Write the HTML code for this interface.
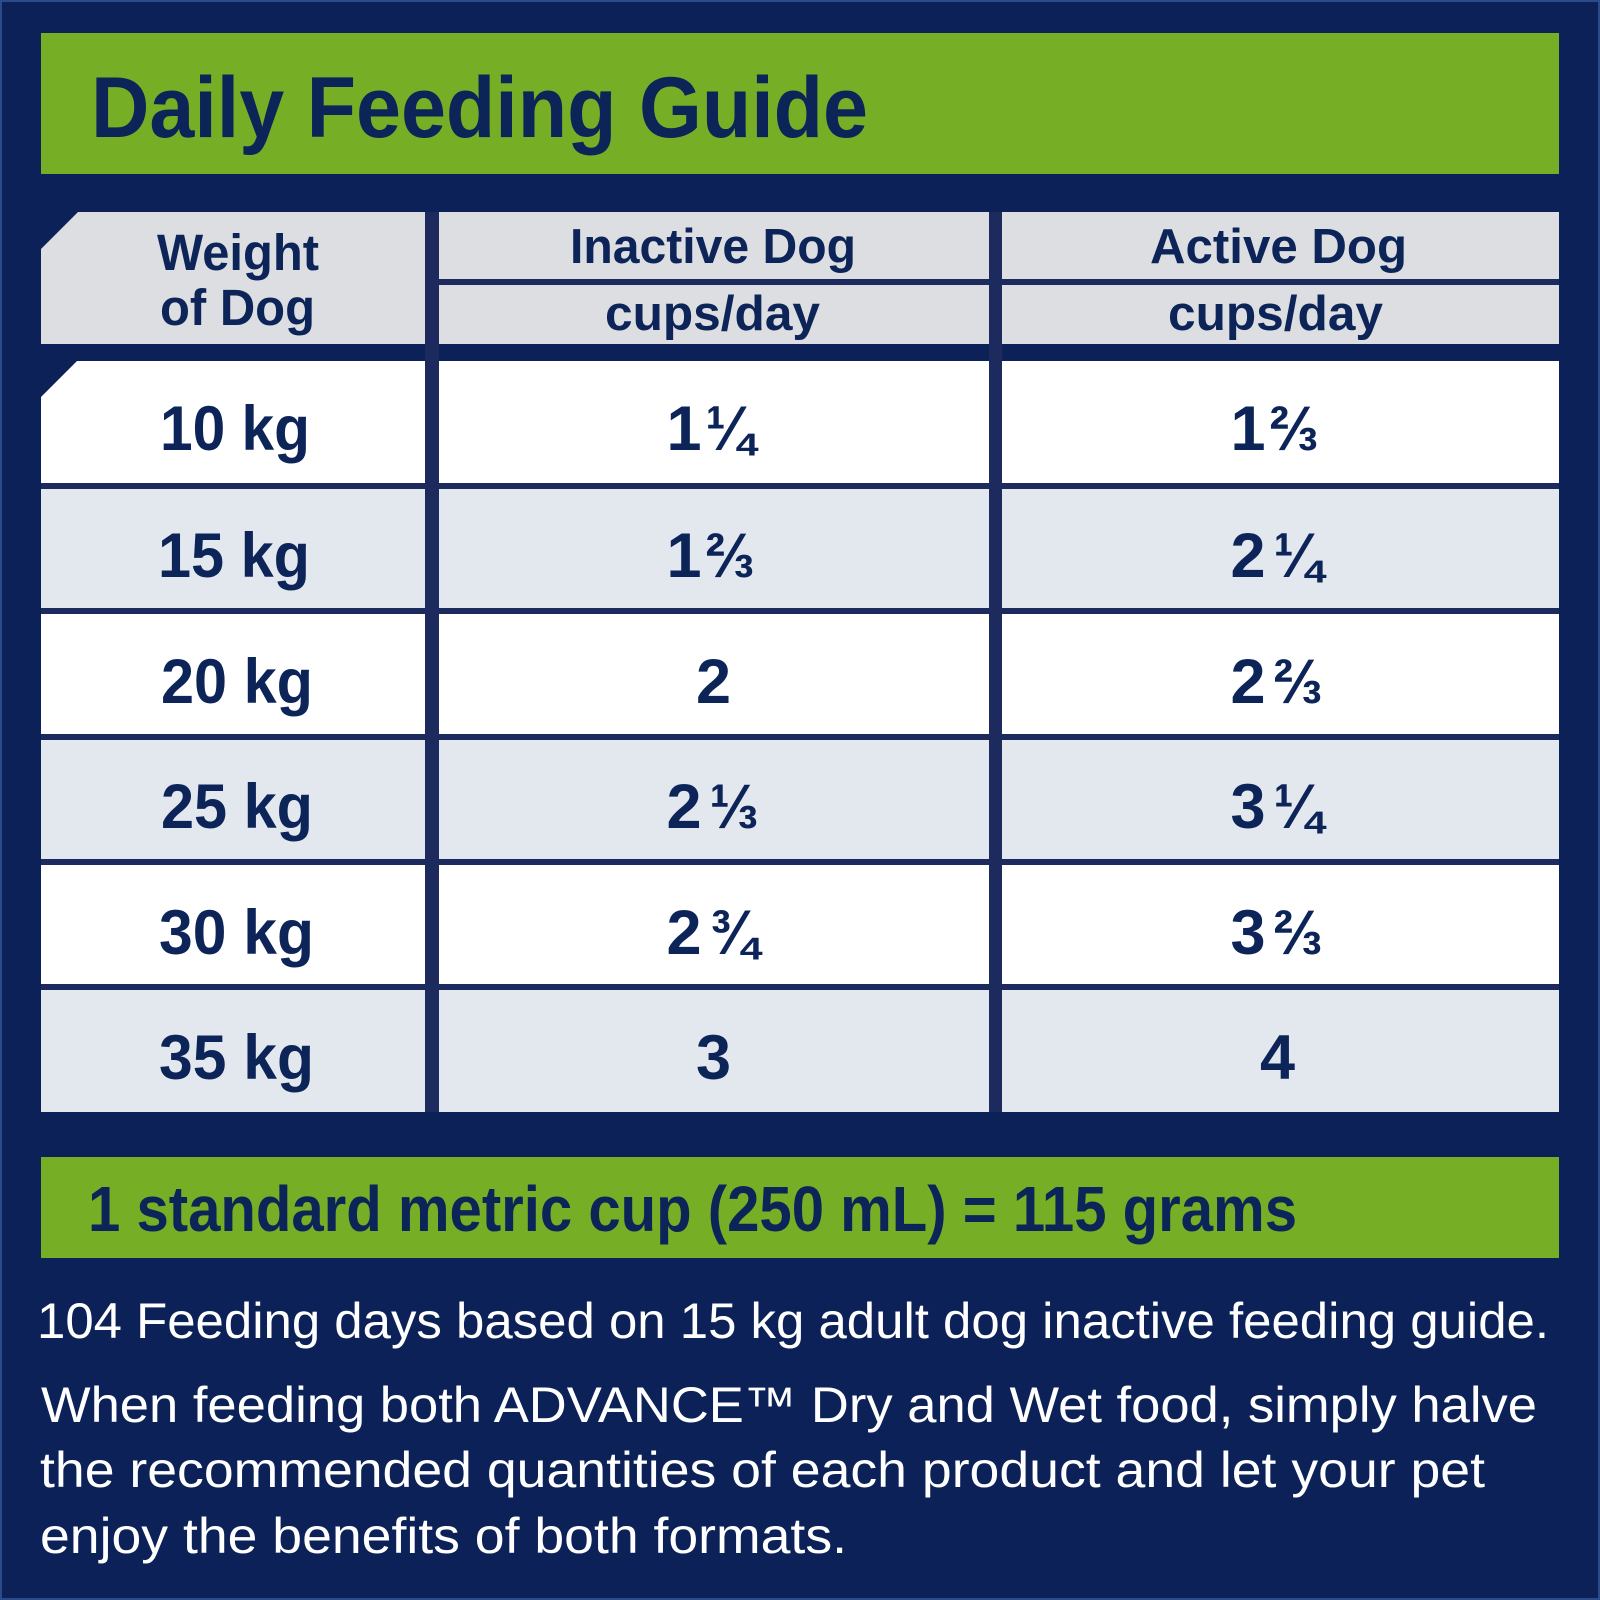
<!DOCTYPE html>
<html>
<head>
<meta charset="utf-8">
<style>
  html,body{margin:0;padding:0;background:#0b2157;}
  svg{display:block;}
  .b{font-family:"Liberation Sans","DejaVu Sans",sans-serif;font-weight:bold;fill:#0c2458;}
  .r{font-family:"Liberation Sans","DejaVu Sans",sans-serif;font-weight:normal;fill:#ffffff;}
</style>
</head>
<body>
<svg width="1600" height="1600" viewBox="0 0 1600 1600" xmlns="http://www.w3.org/2000/svg">
  <rect x="0" y="0" width="1600" height="1600" fill="#0b2157"/>
  <rect x="1" y="1" width="1598" height="1598" fill="none" stroke="#2a4a8a" stroke-width="2"/>

  <!-- Title bar -->
  <rect x="41" y="33" width="1518" height="141" fill="#76ae26"/>
  <text class="b" x="91" y="137" font-size="86" textLength="777" lengthAdjust="spacingAndGlyphs">Daily Feeding Guide</text>

  <!-- vertical separators -->
  <rect x="425" y="212" width="14" height="900" fill="#1d2a5e"/>
  <rect x="989" y="212" width="13" height="900" fill="#1d2a5e"/>

  <!-- Header -->
  <polygon points="41,249 78,212 425,212 425,344 41,344" fill="#dcdee1"/>
  <rect x="439" y="212" width="550" height="67" fill="#dcdee1"/>
  <rect x="439" y="279" width="550" height="6" fill="#1d2a5e"/>
  <rect x="439" y="285" width="550" height="59" fill="#dcdee1"/>
  <rect x="1002" y="212" width="557" height="67" fill="#dcdee1"/>
  <rect x="1002" y="279" width="557" height="6" fill="#1d2a5e"/>
  <rect x="1002" y="285" width="557" height="59" fill="#dcdee1"/>

  <text class="b" x="157" y="270" font-size="51" textLength="162" lengthAdjust="spacingAndGlyphs">Weight</text>
  <text class="b" x="160" y="325" font-size="51" textLength="155" lengthAdjust="spacingAndGlyphs">of Dog</text>
  <text class="b" x="570" y="263" font-size="49" textLength="286" lengthAdjust="spacingAndGlyphs">Inactive Dog</text>
  <text class="b" x="605" y="330" font-size="49" textLength="215" lengthAdjust="spacingAndGlyphs">cups/day</text>
  <text class="b" x="1150" y="263" font-size="49" textLength="257" lengthAdjust="spacingAndGlyphs">Active Dog</text>
  <text class="b" x="1168" y="330" font-size="49" textLength="215" lengthAdjust="spacingAndGlyphs">cups/day</text>

  <!-- row gaps -->
  <rect x="41" y="483" width="1518" height="6" fill="#1d2a5e"/>
  <rect x="41" y="608" width="1518" height="6" fill="#1d2a5e"/>
  <rect x="41" y="734" width="1518" height="6" fill="#1d2a5e"/>
  <rect x="41" y="859" width="1518" height="6" fill="#1d2a5e"/>
  <rect x="41" y="984" width="1518" height="6" fill="#1d2a5e"/>

  <!-- Row 1 (white) -->
  <polygon points="41,397 77,361 425,361 425,483 41,483" fill="#ffffff"/>
  <rect x="439" y="361" width="550" height="122" fill="#ffffff"/>
  <rect x="1002" y="361" width="557" height="122" fill="#ffffff"/>
  <!-- Row 2 (light) -->
  <rect x="41" y="489" width="384" height="119" fill="#e3e8ef"/>
  <rect x="439" y="489" width="550" height="119" fill="#e3e8ef"/>
  <rect x="1002" y="489" width="557" height="119" fill="#e3e8ef"/>
  <!-- Row 3 (white) -->
  <rect x="41" y="614" width="384" height="120" fill="#ffffff"/>
  <rect x="439" y="614" width="550" height="120" fill="#ffffff"/>
  <rect x="1002" y="614" width="557" height="120" fill="#ffffff"/>
  <!-- Row 4 (light) -->
  <rect x="41" y="740" width="384" height="119" fill="#e3e8ef"/>
  <rect x="439" y="740" width="550" height="119" fill="#e3e8ef"/>
  <rect x="1002" y="740" width="557" height="119" fill="#e3e8ef"/>
  <!-- Row 5 (white) -->
  <rect x="41" y="865" width="384" height="119" fill="#ffffff"/>
  <rect x="439" y="865" width="550" height="119" fill="#ffffff"/>
  <rect x="1002" y="865" width="557" height="119" fill="#ffffff"/>
  <!-- Row 6 (light) -->
  <rect x="41" y="990" width="384" height="122" fill="#e3e8ef"/>
  <rect x="439" y="990" width="550" height="122" fill="#e3e8ef"/>
  <rect x="1002" y="990" width="557" height="122" fill="#e3e8ef"/>

  <!-- Weight labels -->
  <text class="b" x="160" y="450" font-size="63" textLength="150" lengthAdjust="spacingAndGlyphs">10 kg</text>
  <text class="b" x="158" y="577" font-size="63" textLength="152" lengthAdjust="spacingAndGlyphs">15 kg</text>
  <text class="b" x="161" y="703" font-size="63" textLength="152" lengthAdjust="spacingAndGlyphs">20 kg</text>
  <text class="b" x="161" y="828" font-size="63" textLength="152" lengthAdjust="spacingAndGlyphs">25 kg</text>
  <text class="b" x="159" y="954" font-size="63" textLength="155" lengthAdjust="spacingAndGlyphs">30 kg</text>
  <text class="b" x="159" y="1079" font-size="63" textLength="155" lengthAdjust="spacingAndGlyphs">35 kg</text>

  <!-- Inactive values -->
  <text class="b" x="666.5" y="450" font-size="63">1</text>
  <text class="b" x="705.5" y="450" font-size="63" textLength="49" lengthAdjust="spacingAndGlyphs">¼</text>

  <text class="b" x="666.5" y="577" font-size="63">1</text>
  <text class="b" x="705.5" y="577" font-size="63" textLength="49" lengthAdjust="spacingAndGlyphs">⅔</text>

  <text class="b" x="713.5" y="703" font-size="63" text-anchor="middle">2</text>

  <text class="b" x="666.5" y="828" font-size="63">2</text>
  <text class="b" x="709.5" y="828" font-size="63" textLength="49" lengthAdjust="spacingAndGlyphs">⅓</text>

  <text class="b" x="666.5" y="954" font-size="63">2</text>
  <text class="b" x="709.5" y="954" font-size="63" textLength="49" lengthAdjust="spacingAndGlyphs">¾</text>

  <text class="b" x="713.5" y="1079" font-size="63" text-anchor="middle">3</text>

  <!-- Active values -->
  <text class="b" x="1230.5" y="450" font-size="63">1</text>
  <text class="b" x="1269.5" y="450" font-size="63" textLength="49" lengthAdjust="spacingAndGlyphs">⅔</text>

  <text class="b" x="1230.5" y="577" font-size="63">2</text>
  <text class="b" x="1273.5" y="577" font-size="63" textLength="49" lengthAdjust="spacingAndGlyphs">¼</text>

  <text class="b" x="1230.5" y="703" font-size="63">2</text>
  <text class="b" x="1273.5" y="703" font-size="63" textLength="49" lengthAdjust="spacingAndGlyphs">⅔</text>

  <text class="b" x="1230.5" y="828" font-size="63">3</text>
  <text class="b" x="1273.5" y="828" font-size="63" textLength="49" lengthAdjust="spacingAndGlyphs">¼</text>

  <text class="b" x="1230.5" y="954" font-size="63">3</text>
  <text class="b" x="1273.5" y="954" font-size="63" textLength="49" lengthAdjust="spacingAndGlyphs">⅔</text>

  <text class="b" x="1277.5" y="1079" font-size="63" text-anchor="middle">4</text>

  <!-- Cup bar -->
  <rect x="41" y="1157" width="1518" height="101" fill="#76ae26"/>
  <text class="b" x="88" y="1231" font-size="64" textLength="1209" lengthAdjust="spacingAndGlyphs">1 standard metric cup (250 mL) = 115 grams</text>

  <!-- Body text -->
  <text class="r" x="37" y="1338" font-size="50" textLength="1512" lengthAdjust="spacingAndGlyphs">104 Feeding days based on 15 kg adult dog inactive feeding guide.</text>
  <text class="r" x="41" y="1422" font-size="50" textLength="1496" lengthAdjust="spacingAndGlyphs">When feeding both ADVANCE™ Dry and Wet food, simply halve</text>
  <text class="r" x="40" y="1487" font-size="50" textLength="1445" lengthAdjust="spacingAndGlyphs">the recommended quantities of each product and let your pet</text>
  <text class="r" x="40" y="1553" font-size="50" textLength="807" lengthAdjust="spacingAndGlyphs">enjoy the benefits of both formats.</text>
</svg>
</body>
</html>
